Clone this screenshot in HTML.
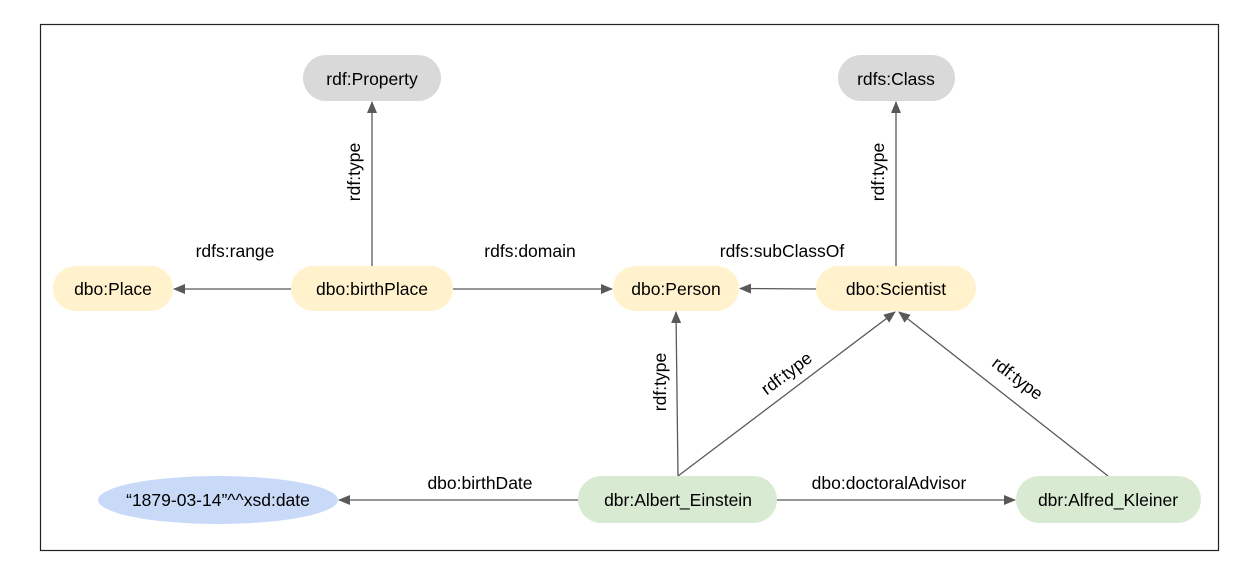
<!DOCTYPE html>
<html><head><meta charset="utf-8"><style>
html,body{margin:0;padding:0;background:#fff;}
svg{display:block;}
text{font-family:"Liberation Sans",Arial,sans-serif;font-size:17.5px;fill:#000;}
</style></head><body>
<svg width="1253" height="581" viewBox="0 0 1253 581" xmlns="http://www.w3.org/2000/svg">
<defs>
<marker id="a" markerWidth="12" markerHeight="10" refX="11" refY="5" orient="auto" markerUnits="userSpaceOnUse">
<path d="M0,0 L12,5 L0,10 Z" fill="#595959"/>
</marker>
</defs>
<rect x="40.5" y="24.5" width="1178" height="526" fill="#fff" stroke="#222" stroke-width="1.2"/>
<g stroke="#595959" stroke-width="1.3" fill="none" marker-end="url(#a)">
<line x1="372" y1="266" x2="372" y2="102"/>
<line x1="291" y1="289" x2="174" y2="289"/>
<line x1="453" y1="289" x2="612" y2="289"/>
<line x1="816" y1="289" x2="740" y2="288.5"/>
<line x1="896" y1="266" x2="896" y2="102"/>
<line x1="678" y1="476" x2="676" y2="312"/>
<line x1="678" y1="476" x2="895" y2="312"/>
<line x1="1108" y1="476" x2="899" y2="312"/>
<line x1="578" y1="500" x2="339" y2="500"/>
<line x1="777" y1="500" x2="1015" y2="500"/>
</g>
<rect x="303" y="55" width="138" height="46" rx="23" fill="#d9d9d9"/>
<rect x="838" y="55" width="117" height="46" rx="23" fill="#d9d9d9"/>
<rect x="53" y="266" width="120" height="45" rx="22.5" fill="#fff2cc"/>
<rect x="291" y="266" width="162" height="45" rx="22.5" fill="#fff2cc"/>
<rect x="613" y="266" width="126" height="45" rx="22.5" fill="#fff2cc"/>
<rect x="816" y="266" width="160" height="45" rx="22.5" fill="#fff2cc"/>
<ellipse cx="218" cy="500" rx="120" ry="24" fill="#c9daf8"/>
<rect x="578" y="476" width="199" height="47" rx="23.5" fill="#d9ead3"/>
<rect x="1016" y="476" width="185" height="47" rx="23.5" fill="#d9ead3"/>
<g text-anchor="middle">
<text x="372" y="85">rdf:Property</text>
<text x="896" y="85">rdfs:Class</text>
<text x="113" y="295">dbo:Place</text>
<text x="372" y="295">dbo:birthPlace</text>
<text x="676" y="295">dbo:Person</text>
<text x="896" y="295">dbo:Scientist</text>
<text x="218" y="506">“1879-03-14”^^xsd:date</text>
<text x="678" y="506">dbr:Albert_Einstein</text>
<text x="1108" y="506">dbr:Alfred_Kleiner</text>
<text x="235" y="257">rdfs:range</text>
<text x="530" y="257">rdfs:domain</text>
<text x="782" y="257">rdfs:subClassOf</text>
<text x="480" y="489">dbo:birthDate</text>
<text x="889" y="489">dbo:doctoralAdvisor</text>
<text transform="translate(360,172) rotate(-90)">rdf:type</text>
<text transform="translate(884,172) rotate(-90)">rdf:type</text>
<text transform="translate(666,382) rotate(-90)">rdf:type</text>
<text transform="translate(790,378) rotate(-37)">rdf:type</text>
<text transform="translate(1014,383) rotate(37)">rdf:type</text>
</g>
</svg>
</body></html>
